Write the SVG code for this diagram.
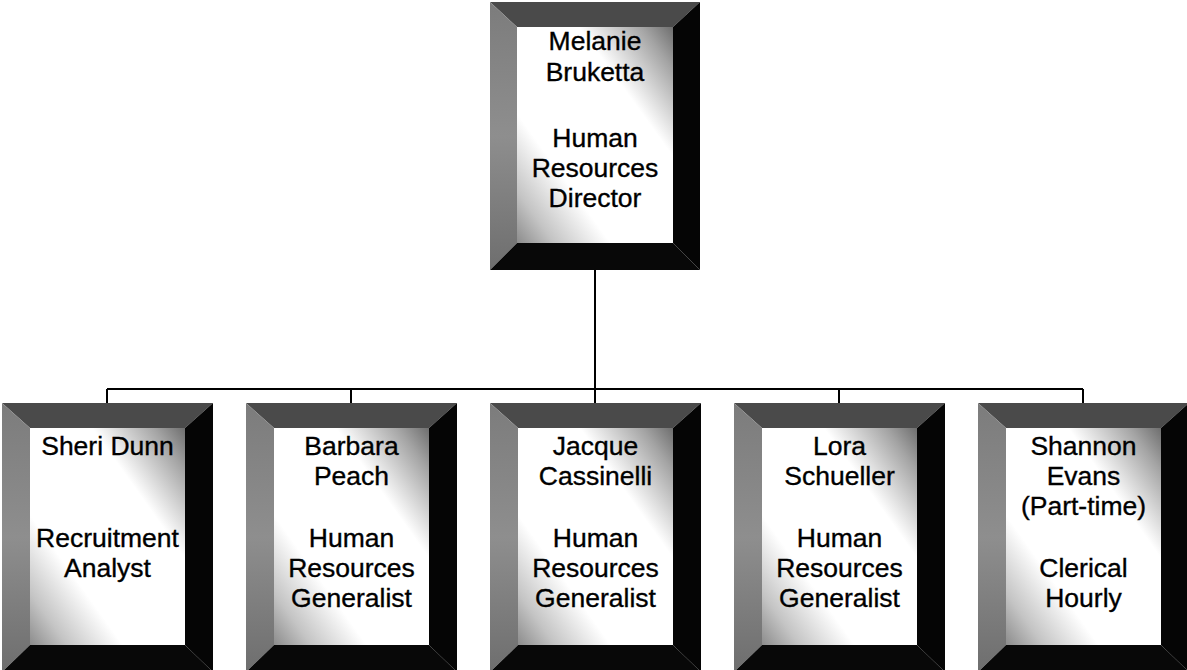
<svg xmlns="http://www.w3.org/2000/svg" width="1187" height="670" viewBox="0 0 1187 670">
  <style>
    .bevel-top { fill: #4a4a4a; }
    .bevel-left { fill: url(#leftShade); }
    .bevel-right { fill: #050505; }
    .bevel-bottom { fill: #080808; }
    .face { fill: url(#faceShade); }
    .label { font-family: "Liberation Sans", Arial, sans-serif; font-size: 26.5px; fill: #000; stroke: #000; stroke-width: 0.35; text-anchor: middle; }
    .wire { stroke: #000; stroke-width: 2; fill: none; }
  </style>
  <defs>
    <!-- soft corner shading on the front face of each plaque -->
    <linearGradient id="faceShade" x1="1" y1="0" x2="0" y2="1">
      <stop offset="0" stop-color="#6e6e6e"/>
      <stop offset="0.1" stop-color="#a4a4a4"/>
      <stop offset="0.3" stop-color="#ffffff"/>
      <stop offset="0.7" stop-color="#ffffff"/>
      <stop offset="0.88" stop-color="#c4c4c4"/>
      <stop offset="1" stop-color="#8c8c8c"/>
    </linearGradient>
    <linearGradient id="leftShade" x1="0" y1="0" x2="0" y2="1">
      <stop offset="0" stop-color="#7c7c7c"/>
      <stop offset="0.5" stop-color="#8e8e8e"/>
      <stop offset="1" stop-color="#6e6e6e"/>
    </linearGradient>
  </defs>

  <rect width="1187" height="670" fill="#fff"/>

  <!-- reporting lines -->
  <g id="connectors">
    <path class="wire" d="M595 270 V389"/>
    <path class="wire" d="M107 389 H1083"/>
    <path class="wire" d="M107 389 V403 M351 389 V403 M595 389 V403 M839 389 V403 M1083 389 V403"/>
  </g>

  <!-- director -->
  <g id="node-director">
    <polygon class="bevel-top" points="490,2 700,2 673,27 517,27"/>
    <polygon class="bevel-left" points="490,2 517,27 517,243 490,270"/>
    <polygon class="bevel-right" points="700,2 700,270 673,243 673,27"/>
    <polygon class="bevel-bottom" points="490,270 517,243 673,243 700,270"/>
    <rect class="face" x="517" y="27" width="156" height="216"/>
    <text class="label" x="595" y="50">Melanie</text>
    <text class="label" x="595" y="81">Bruketta</text>
    <text class="label" x="595" y="147">Human</text>
    <text class="label" x="595" y="177">Resources</text>
    <text class="label" x="595" y="207">Director</text>
  </g>

  <!-- staff -->
  <g id="node-dunn" transform="translate(2,0)">
    <polygon class="bevel-top" points="0,403 211,403 183,428 28,428"/>
    <polygon class="bevel-left" points="0,403 28,428 28,645 0,672"/>
    <polygon class="bevel-right" points="211,403 211,672 183,645 183,428"/>
    <polygon class="bevel-bottom" points="0,672 28,645 183,645 211,672"/>
    <rect class="face" x="28" y="428" width="155" height="217"/>
    <text class="label" x="105.5" y="455">Sheri Dunn</text>
    <text class="label" x="105.5" y="547">Recruitment</text>
    <text class="label" x="105.5" y="577">Analyst</text>
  </g>

  <g id="node-peach" transform="translate(246,0)">
    <polygon class="bevel-top" points="0,403 211,403 183,428 28,428"/>
    <polygon class="bevel-left" points="0,403 28,428 28,645 0,672"/>
    <polygon class="bevel-right" points="211,403 211,672 183,645 183,428"/>
    <polygon class="bevel-bottom" points="0,672 28,645 183,645 211,672"/>
    <rect class="face" x="28" y="428" width="155" height="217"/>
    <text class="label" x="105.5" y="455">Barbara</text>
    <text class="label" x="105.5" y="485">Peach</text>
    <text class="label" x="105.5" y="547">Human</text>
    <text class="label" x="105.5" y="577">Resources</text>
    <text class="label" x="105.5" y="607">Generalist</text>
  </g>

  <g id="node-cassinelli" transform="translate(490,0)">
    <polygon class="bevel-top" points="0,403 211,403 183,428 28,428"/>
    <polygon class="bevel-left" points="0,403 28,428 28,645 0,672"/>
    <polygon class="bevel-right" points="211,403 211,672 183,645 183,428"/>
    <polygon class="bevel-bottom" points="0,672 28,645 183,645 211,672"/>
    <rect class="face" x="28" y="428" width="155" height="217"/>
    <text class="label" x="105.5" y="455">Jacque</text>
    <text class="label" x="105.5" y="485">Cassinelli</text>
    <text class="label" x="105.5" y="547">Human</text>
    <text class="label" x="105.5" y="577">Resources</text>
    <text class="label" x="105.5" y="607">Generalist</text>
  </g>

  <g id="node-schueller" transform="translate(734,0)">
    <polygon class="bevel-top" points="0,403 211,403 183,428 28,428"/>
    <polygon class="bevel-left" points="0,403 28,428 28,645 0,672"/>
    <polygon class="bevel-right" points="211,403 211,672 183,645 183,428"/>
    <polygon class="bevel-bottom" points="0,672 28,645 183,645 211,672"/>
    <rect class="face" x="28" y="428" width="155" height="217"/>
    <text class="label" x="105.5" y="455">Lora</text>
    <text class="label" x="105.5" y="485">Schueller</text>
    <text class="label" x="105.5" y="547">Human</text>
    <text class="label" x="105.5" y="577">Resources</text>
    <text class="label" x="105.5" y="607">Generalist</text>
  </g>

  <g id="node-evans" transform="translate(978,0)">
    <polygon class="bevel-top" points="0,403 211,403 183,428 28,428"/>
    <polygon class="bevel-left" points="0,403 28,428 28,645 0,672"/>
    <polygon class="bevel-right" points="211,403 211,672 183,645 183,428"/>
    <polygon class="bevel-bottom" points="0,672 28,645 183,645 211,672"/>
    <rect class="face" x="28" y="428" width="155" height="217"/>
    <text class="label" x="105.5" y="455">Shannon</text>
    <text class="label" x="105.5" y="485">Evans</text>
    <text class="label" x="105.5" y="515">(Part-time)</text>
    <text class="label" x="105.5" y="577">Clerical</text>
    <text class="label" x="105.5" y="607">Hourly</text>
  </g>
</svg>
